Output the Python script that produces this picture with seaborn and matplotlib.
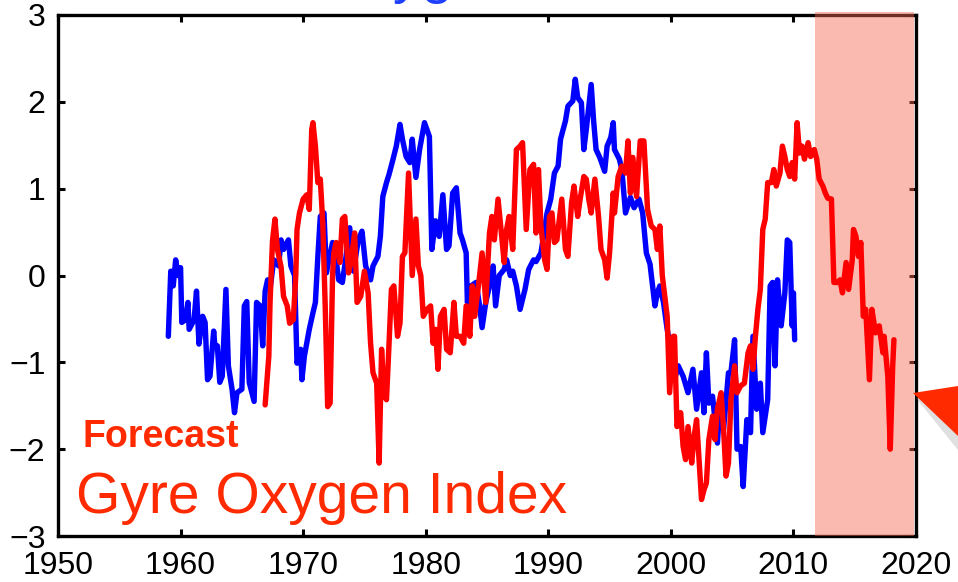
import numpy as np, pandas as pd
from matplotlib import pyplot as plt
from matplotlib.patches import Rectangle, Polygon
import seaborn as sns

blue_years = [
    1959.0, 1959.2, 1959.4, 1959.6, 1959.8, 1960.0, 1960.1, 1960.4, 1960.6, 1960.7,
    1961.1, 1961.3, 1961.5, 1961.8, 1962.0, 1962.2, 1962.4, 1962.7, 1962.8, 1963.0,
    1963.2, 1963.4, 1963.7, 1963.9, 1964.2, 1964.4, 1964.6, 1965.0, 1965.2, 1965.4,
    1965.6, 1966.0, 1966.2, 1966.5, 1966.7, 1966.9, 1967.1, 1967.3, 1967.6, 1968.0,
    1968.2, 1968.4, 1968.8, 1969.0, 1969.3, 1969.5, 1969.8, 1969.9, 1970.1, 1970.5,
    1970.8, 1971.0, 1971.2, 1971.4, 1971.7, 1971.9, 1972.1, 1972.4, 1972.6, 1972.9,
    1973.2, 1973.5, 1973.8, 1974.1, 1974.5, 1974.8, 1975.1, 1975.5, 1975.7, 1976.1,
    1976.3, 1976.5, 1976.8, 1977.0, 1977.3, 1977.6, 1977.9, 1978.1, 1978.4, 1978.7,
    1978.9, 1979.2, 1979.5, 1979.9, 1980.3, 1980.5, 1980.8, 1981.1, 1981.4, 1981.7,
    1981.9, 1982.2, 1982.5, 1982.8, 1983.0, 1983.3, 1983.4, 1983.7, 1984.1, 1984.4,
    1984.6, 1984.9, 1985.2, 1985.5, 1985.7, 1986.0, 1986.4, 1986.6, 1986.9, 1987.1,
    1987.4, 1987.7, 1988.1, 1988.4, 1988.8, 1989.0, 1989.4, 1989.7, 1989.9, 1990.2,
    1990.5, 1990.8, 1991.0, 1991.4, 1991.6, 1992.0, 1992.2, 1992.4, 1992.7, 1992.9,
    1993.1, 1993.5, 1993.7, 1993.9, 1994.2, 1994.6, 1994.8, 1995.1, 1995.3, 1995.4,
    1995.8, 1996.0, 1996.3, 1996.7, 1997.0, 1997.4, 1997.7, 1998.0, 1998.3, 1998.7,
    1998.9, 1999.1, 1999.4, 1999.7, 1999.9, 2000.3, 2000.6, 2001.0, 2001.4, 2001.8,
    2002.1, 2002.5, 2002.7, 2002.9, 2003.1, 2003.4, 2003.8, 2004.0, 2004.3, 2004.7,
    2004.9, 2005.2, 2005.4, 2005.7, 2005.9, 2006.2, 2006.5, 2006.7, 2007.0, 2007.3,
    2007.5, 2007.9, 2008.1, 2008.3, 2008.5, 2008.7, 2009.0, 2009.3, 2009.5, 2009.7,
    2009.9, 2010.0, 2010.1,
]
blue_vals = [
    -0.70, 0.05, -0.12, 0.18, 0.00, 0.09, -0.54, -0.51, -0.31, -0.62,
    -0.51, -0.18, -0.79, -0.47, -0.54, -1.20, -1.16, -0.64, -0.81, -0.81,
    -1.23, -1.16, -0.16, -1.04, -1.31, -1.58, -1.35, -1.31, -0.35, -0.30,
    -1.23, -1.45, -0.31, -0.35, -0.81, -0.18, -0.05, -0.16, 0.18, 0.11,
    0.41, 0.30, 0.41, 0.11, 0.00, -1.01, -0.85, -1.20, -0.93, -0.62,
    -0.43, -0.31, 0.22, 0.68, 0.72, 0.03, 0.18, 0.38, 0.28, -0.05,
    -0.08, 0.22, 0.55, 0.05, 0.41, 0.51, 0.11, -0.05, 0.11, 0.22,
    0.45, 0.91, 1.07, 1.16, 1.32, 1.49, 1.74, 1.57, 1.37, 1.30,
    1.57, 1.13, 1.45, 1.76, 1.60, 0.30, 0.63, 0.45, 0.93, 0.30,
    0.34, 0.95, 1.01, 0.49, 0.41, 0.26, -0.31, -0.12, -0.08, -0.35,
    -0.60, -0.31, -0.12, 0.11, -0.35, 0.00, 0.07, 0.18, 0.00, 0.05,
    -0.12, -0.39, -0.16, 0.07, 0.18, 0.16, 0.26, 0.53, 0.72, 0.88,
    1.18, 1.26, 1.57, 1.78, 1.95, 2.01, 2.26, 2.05, 1.99, 1.45,
    1.68, 2.20, 1.78, 1.45, 1.36, 1.20, 1.49, 1.59, 1.76, 1.45,
    1.34, 1.22, 0.72, 0.90, 0.78, 0.88, 0.72, 0.26, 0.13, -0.35,
    -0.20, -0.12, -0.31, -0.62, -0.78, -1.20, -1.04, -1.16, -1.35, -1.08,
    -1.54, -1.12, -1.58, -0.89, -1.47, -1.39, -1.93, -1.47, -1.77, -1.12,
    -1.12, -0.74, -2.00, -1.97, -2.43, -1.66, -1.81, -0.70, -1.54, -1.24,
    -1.81, -1.43, -0.12, -0.08, -1.04, -0.05, -0.58, -0.20, 0.41, 0.38,
    -0.58, -0.20, -0.74,
]

# Forecast index (red)
red_years = [
    1966.9, 1967.2, 1967.3, 1967.5, 1967.7, 1967.9, 1968.2, 1968.4, 1968.7, 1968.9,
    1969.2, 1969.4, 1969.5, 1969.7, 1970.0, 1970.3, 1970.5, 1970.7, 1970.8, 1971.0,
    1971.2, 1971.4, 1971.6, 1971.8, 1972.0, 1972.2, 1972.4, 1972.5, 1972.7, 1973.0,
    1973.2, 1973.4, 1973.7, 1973.9, 1974.2, 1974.4, 1974.7, 1975.0, 1975.3, 1975.5,
    1975.7, 1976.0, 1976.2, 1976.4, 1976.6, 1976.8, 1977.0, 1977.2, 1977.4, 1977.7,
    1977.9, 1978.1, 1978.3, 1978.6, 1978.9, 1979.2, 1979.4, 1979.6, 1979.8, 1980.1,
    1980.4, 1980.6, 1980.8, 1981.0, 1981.2, 1981.5, 1981.7, 1982.0, 1982.3, 1982.5,
    1982.8, 1983.1, 1983.3, 1983.6, 1983.8, 1984.0, 1984.3, 1984.6, 1984.9, 1985.2,
    1985.4, 1985.6, 1985.9, 1986.2, 1986.4, 1986.6, 1986.8, 1987.1, 1987.4, 1987.7,
    1987.9, 1988.2, 1988.5, 1988.8, 1989.0, 1989.2, 1989.4, 1989.7, 1989.9, 1990.1,
    1990.3, 1990.5, 1990.7, 1991.1, 1991.4, 1991.6, 1991.9, 1992.1, 1992.4, 1992.6,
    1992.9, 1993.1, 1993.3, 1993.5, 1993.8, 1994.1, 1994.3, 1994.6, 1994.8, 1995.0,
    1995.3, 1995.4, 1995.7, 1996.0, 1996.3, 1996.5, 1996.7, 1996.9, 1997.2, 1997.5,
    1997.8, 1998.1, 1998.4, 1998.7, 1998.9, 1999.1, 1999.3, 1999.5, 1999.7, 1999.9,
    2000.2, 2000.3, 2000.5, 2000.8, 2001.0, 2001.2, 2001.4, 2001.7, 2001.9, 2002.1,
    2002.3, 2002.5, 2002.7, 2002.9, 2003.1, 2003.4, 2003.6, 2003.8, 2004.1, 2004.3,
    2004.5, 2004.7, 2004.9, 2005.2, 2005.4, 2005.7, 2006.0, 2006.3, 2006.5, 2006.7,
    2006.9, 2007.1, 2007.3, 2007.5, 2007.7, 2007.9, 2008.2, 2008.4, 2008.6, 2008.9,
    2009.1, 2009.3, 2009.5, 2009.7, 2009.9, 2010.1, 2010.3, 2010.5, 2010.7, 2010.9,
    2011.2, 2011.4, 2011.7, 2011.9, 2012.1, 2012.4, 2012.6, 2012.8, 2013.1, 2013.3,
    2013.6, 2013.8, 2014.0, 2014.3, 2014.5, 2014.8, 2014.9, 2015.1, 2015.3, 2015.5,
    2015.7, 2015.9, 2016.2, 2016.4, 2016.7, 2017.0, 2017.3, 2017.4, 2017.7, 2017.9,
    2018.1, 2018.2,
]
red_vals = [
    -1.49, -0.93, -0.31, 0.40, 0.65, 0.30, 0.10, -0.24, -0.35, -0.55,
    -0.51, 0.00, 0.53, 0.72, 0.88, 0.93, 0.76, 1.68, 1.76, 1.49,
    1.07, 1.11, 0.61, -0.35, -1.51, -1.47, 0.00, 0.26, 0.38, 0.15,
    0.65, 0.68, 0.03, 0.15, 0.49, -0.31, -0.24, 0.05, -0.20, -0.78,
    -1.12, -1.24, -2.16, -0.85, -1.39, -1.43, -0.81, -0.16, -0.12, -0.70,
    -0.55, 0.22, 0.26, 1.18, 0.00, 0.65, 0.11, 0.00, -0.47, -0.39,
    -0.35, -0.78, -0.62, -1.08, -0.47, -0.39, -0.85, -0.89, -0.31, -0.70,
    -0.70, -0.78, -0.35, -0.70, -0.12, -0.47, -0.12, 0.26, -0.31, 0.49,
    0.68, 0.41, 0.88, 0.45, 0.15, 0.53, 0.68, 0.30, 1.45, 1.49,
    1.53, 0.53, 1.22, 1.28, 0.49, 1.22, 0.57, 0.18, 0.07, 0.68,
    0.72, 0.38, 0.41, 0.88, 0.30, 0.22, 0.84, 1.03, 0.68, 0.88,
    1.14, 1.11, 0.88, 0.72, 1.11, 0.68, 0.30, 0.18, -0.03, 0.26,
    0.95, 0.72, 1.14, 1.26, 1.18, 1.55, 0.95, 1.36, 0.91, 1.55,
    1.55, 0.76, 0.57, 0.53, 0.30, 0.57, 0.00, -0.24, -0.47, -1.35,
    -0.70, -0.70, -1.74, -1.58, -1.97, -2.12, -1.74, -2.16, -1.85, -1.66,
    -2.12, -2.58, -2.47, -2.39, -1.89, -1.62, -1.89, -1.54, -1.35, -1.77,
    -2.31, -2.16, -1.43, -1.04, -1.35, -1.27, -1.24, -0.89, -0.81, -1.08,
    -0.70, -0.39, -0.16, 0.53, 0.65, 1.07, 1.07, 1.22, 1.03, 1.18,
    1.49, 1.37, 1.22, 1.14, 1.30, 1.11, 1.76, 1.41, 1.49, 1.34,
    1.53, 1.37, 1.45, 1.34, 1.11, 1.03, 0.95, 0.89, 0.88, -0.08,
    -0.08, -0.05, -0.20, 0.15, -0.16, 0.18, 0.53, 0.45, 0.22, 0.38,
    -0.47, -0.39, -1.20, -0.39, -0.66, -0.58, -0.89, -0.70, -1.16, -2.00,
    -1.04, -0.74,
]

forecast_start = 2011.8
x_ticks = [1950, 1960, 1970, 1980, 1990, 2000, 2010, 2020]
y_ticks = [-3, -2, -1, 0, 1, 2, 3]

obs = pd.DataFrame({"year": blue_years, "index": blue_vals})
fcst = pd.DataFrame({"year": red_years, "index": red_vals})

sns.set_style("ticks")
plt.rcParams["font.family"] = ["Liberation Sans", "DejaVu Sans"]

# === PLOT
fig = plt.figure(figsize=(9.58, 5.82), dpi=100)
ax = fig.add_axes([58 / 958, 46 / 582, 858 / 958, 521 / 582])

sns.lineplot(data=obs, x="year", y="index", color="#0000ff", lw=3.9,
             estimator=None, sort=False, ax=ax, zorder=3)
sns.lineplot(data=fcst, x="year", y="index", color="#ff0000", lw=3.9,
             estimator=None, sort=False, ax=ax, zorder=3)

# Forecast window shading (sits over the spines, under the lines)
ax.add_patch(Rectangle((forecast_start, -3), 2019.85 - forecast_start, 6.04,
                       facecolor="#f8664f", alpha=0.45, edgecolor="none",
                       zorder=2.6, clip_on=False))

ax.set_xlim(1950, 2020)
ax.set_ylim(-3, 3)
ax.set_xticks(x_ticks)
ax.set_yticks(y_ticks)
ax.set_xlabel("")
ax.set_ylabel("")
ax.tick_params(direction="in", length=5, width=2.2, labelsize=23,
               top=True, right=True, colors="black")
ax.tick_params(axis="x", pad=11)
ax.tick_params(axis="y", pad=9)
for s in ax.spines.values():
    s.set_linewidth(2.4)
    s.set_color("black")

# Annotations
ax.text(1952.0, -1.98, "Forecast", color="#ff2a00", fontsize=27,
        fontweight="bold", ha="left", va="baseline")
ax.text(1951.5, -2.73, "Gyre Oxygen Index", color="#ff2a00", fontsize=41,
        ha="left", va="baseline")

# Clipped blue title at the top edge
fig.text(320 / 958, 1 + 8 / 582, "Oxygen", color="#1f3fff", fontsize=41,
         ha="left", va="baseline")

# Pointer triangle on the right edge, with a soft shadow
shadow = Polygon([(916 / 958, 1 - 398 / 582), (958 / 958, 1 - 394 / 582),
                  (958 / 958, 1 - 450 / 582)], closed=True,
                 transform=fig.transFigure, facecolor="#999999", alpha=0.3,
                 edgecolor="none")
tri = Polygon([(913 / 958, 1 - 393 / 582), (958 / 958, 1 - 386 / 582),
               (958 / 958, 1 - 436 / 582)], closed=True,
              transform=fig.transFigure, facecolor="#ff2a00", edgecolor="none")
fig.patches.extend([shadow, tri])

plt.savefig("out.png", dpi=100)
